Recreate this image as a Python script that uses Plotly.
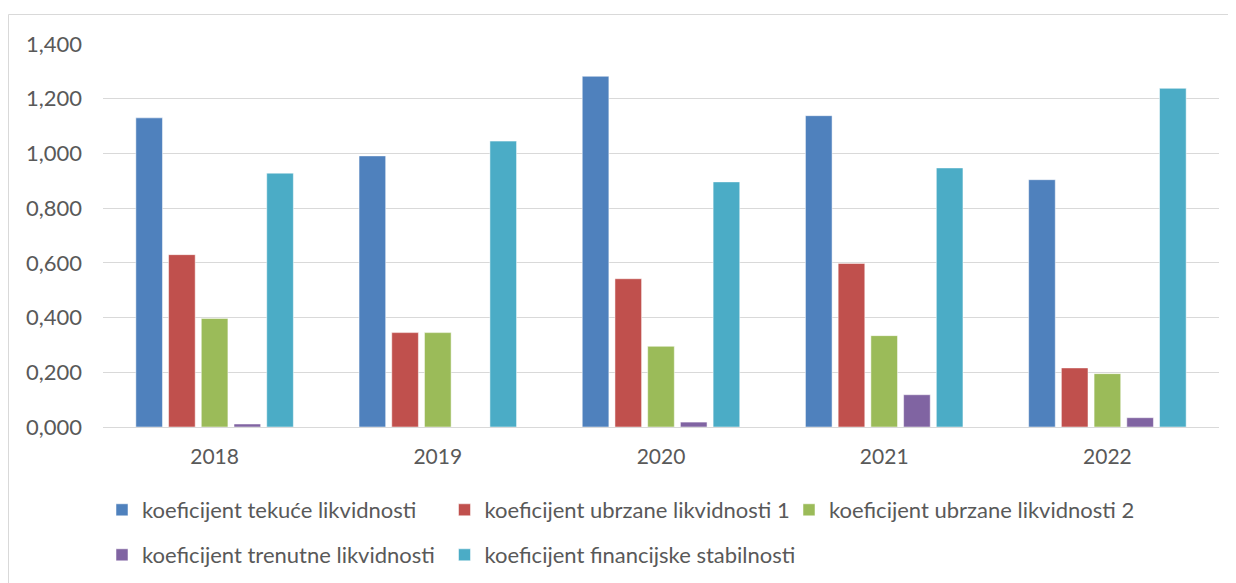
import plotly.graph_objects as go

years = ["2018", "2019", "2020", "2021", "2022"]
series_names = [
    "koeficijent tekuće likvidnosti",
    "koeficijent ubrzane likvidnosti 1",
    "koeficijent ubrzane likvidnosti 2",
    "koeficijent trenutne likvidnosti",
    "koeficijent financijske stabilnosti",
]
tekuce = [1.130, 0.991, 1.282, 1.138, 0.904]
ubrzane1 = [0.630, 0.345, 0.542, 0.598, 0.216]
ubrzane2 = [0.397, 0.345, 0.295, 0.334, 0.195]
trenutne = [0.011, 0.0, 0.018, 0.118, 0.034]
stabilnost = [0.928, 1.045, 0.896, 0.947, 1.238]
colors = ["#4F81BD", "#C0504D", "#9BBB59", "#8064A2", "#4BACC6"]
legend_ids = ["legend", "legend2", "legend3", "legend4", "legend5"]

FONT = "Lato"
TXT = "#595959"

fig = go.Figure()
for name, vals, col, lg in zip(series_names, [tekuce, ubrzane1, ubrzane2, trenutne, stabilnost], colors, legend_ids):
    fig.add_trace(go.Bar(
        x=years, y=vals, name=name, legend=lg,
        marker=dict(color=col, line=dict(color="rgba(255,255,255,0.5)", width=1)),
    ))

# the page body has an 8px margin, so the figure is drawn 8px right/down
OFF = 8
W, H = 1236 - OFF, 583 - OFF
L, R, T, B = 103 - OFF, 17, 44 - OFF, 156
pw, ph = W - L - R, H - T - B

def px_to_paper_x(px):
    return (px - OFF - L) / pw

def px_to_paper_y(py):
    return (H - B - (py - OFF)) / ph

def leg(xpage, ypage):
    return dict(
        orientation="h", xref="container", yref="container",
        xanchor="left", yanchor="middle",
        x=(xpage - OFF) / W, y=1 - (ypage - OFF) / H,
        font=dict(family=FONT, size=22, color=TXT),
        bgcolor="rgba(0,0,0,0)",
    )

ROW1, ROW2 = 510, 555
fig.update_layout(
    width=W, height=H,
    margin=dict(l=L, r=R, t=T, b=B),
    paper_bgcolor="white", plot_bgcolor="white",
    separators=",.",
    barmode="group", bargap=0.267, bargroupgap=0.186,
    font=dict(family=FONT, size=22, color=TXT),
    xaxis=dict(
        showgrid=False, showline=False, ticks="", zeroline=False,
        tickfont=dict(family=FONT, size=21, color=TXT),
        ticklabelstandoff=15,
    ),
    yaxis=dict(
        range=[0, 1.4], dtick=0.2, tick0=0, tickformat=".3f",
        showgrid=True, gridcolor="#d9d9d9", gridwidth=1,
        zeroline=True, zerolinecolor="#d9d9d9", zerolinewidth=1,
        showline=False, ticks="",
        tickfont=dict(family=FONT, size=22, color=TXT),
        ticklabelstandoff=20,
    ),
    legend=leg(102, ROW1),
    legend2=leg(444.5, ROW1),
    legend3=leg(789, ROW1),
    legend4=leg(102, ROW2),
    legend5=leg(444.5, ROW2),
    showlegend=True,
    shapes=[dict(
        type="rect", xref="paper", yref="paper",
        x0=px_to_paper_x(8.5), x1=px_to_paper_x(1250),
        y0=px_to_paper_y(600), y1=px_to_paper_y(14.5),
        line=dict(color="#d9d9d9", width=1), fillcolor="rgba(0,0,0,0)",
        layer="below",
    )],
)

fig.write_html("out.html")
